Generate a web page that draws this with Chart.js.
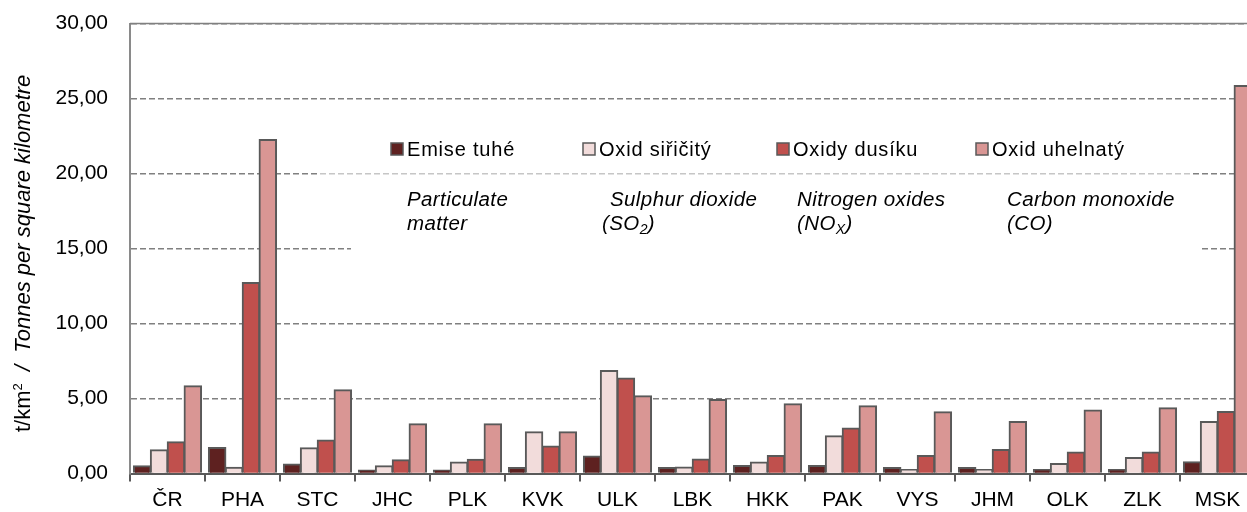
<!DOCTYPE html>
<html>
<head>
<meta charset="utf-8">
<script src="https://cdn.jsdelivr.net/npm/chart.js@4"></script>
<style>
  html, body { margin: 0; padding: 0; background: #fff; overflow: hidden; }
  #wrap { width: 1262px; height: 512px; }
</style>
</head>
<body>
<div id="wrap"><canvas id="chart" width="1262" height="512"></canvas></div>
<script>
// categories (kraje)
const regions = ['ČR', 'PHA', 'STC', 'JHC', 'PLK', 'KVK', 'ULK', 'LBK', 'HKK', 'PAK', 'VYS', 'JHM', 'OLK', 'ZLK', 'MSK'];

// t/km2
const emiseTuhe    = [0.50, 1.71, 0.62, 0.22, 0.22, 0.38, 1.15, 0.38, 0.51, 0.51, 0.38, 0.38, 0.24, 0.24, 0.77];
const oxidSiricity = [1.56, 0.40, 1.69, 0.49, 0.75, 2.76, 6.85, 0.42, 0.75, 2.49, 0.24, 0.24, 0.64, 1.04, 3.44];
const oxidyDusiku  = [2.10, 12.72, 2.22, 0.89, 0.93, 1.82, 6.34, 0.94, 1.18, 3.02, 1.18, 1.58, 1.42, 1.42, 4.11];
const oxidUhelnaty = [5.83, 22.25, 5.56, 3.29, 3.29, 2.76, 5.16, 4.92, 4.63, 4.49, 4.09, 3.44, 4.22, 4.36, 25.85];

const seriesNames = ['Emise tuhé', 'Oxid siřičitý', 'Oxidy dusíku', 'Oxid uhelnatý'];
const seriesColors = ['#5e2120', '#f2dcdb', '#c0504d', '#d99694'];

const yTicks = [0, 5, 10, 15, 20, 25, 30];

const FONT = '"Liberation Sans", Arial, sans-serif';

// legend + english captions + y title, drawn on the canvas
const annotations = {
  id: 'annotations',
  beforeDatasetsDraw(chart) {
    const { ctx, chartArea } = chart;
    ctx.save();
    // solid top line at 30
    ctx.strokeStyle = '#808080';
    ctx.lineWidth = 1.5;
    ctx.beginPath();
    ctx.moveTo(chartArea.left, chartArea.top);
    ctx.lineTo(chartArea.right, chartArea.top);
    ctx.stroke();
    // legend box (semi transparent) and caption box (white)
    ctx.fillStyle = 'rgba(255,255,255,0.55)';
    ctx.fillRect(320, 128, 872, 54);
    ctx.fillStyle = '#fff';
    ctx.fillRect(351, 184, 848, 78);
    ctx.restore();
  },
  afterDraw(chart) {
    const { ctx } = chart;
    ctx.save();

    // legend
    const legendX = [390, 582, 776, 975];
    ctx.font = '20px ' + FONT;
    ctx.letterSpacing = '0.8px';
    ctx.textBaseline = 'middle';
    ctx.textAlign = 'left';
    seriesNames.forEach((name, i) => {
      ctx.fillStyle = seriesColors[i];
      ctx.fillRect(legendX[i] + 1, 143, 12, 12);
      ctx.strokeStyle = '#595959';
      ctx.lineWidth = 1.5;
      ctx.strokeRect(legendX[i] + 1, 143, 12, 12);
      ctx.fillStyle = '#000';
      ctx.fillText(name, legendX[i] + 17, 150);
    });

    // english captions
    ctx.letterSpacing = '0.4px';
    ctx.textBaseline = 'alphabetic';
    const italic = 'italic 20.5px ' + FONT;
    const small = 'italic 14px ' + FONT;
    ctx.font = italic;
    ctx.fillText('Particulate', 407, 206);
    ctx.fillText('matter', 407, 230);
    ctx.fillText('Sulphur dioxide', 610, 206);
    ctx.fillText('Nitrogen oxides', 797, 206);
    ctx.fillText('Carbon monoxide', 1007, 206);
    ctx.fillText('(CO)', 1007, 230);

    const withSub = (x, y, a, sub, b) => {
      ctx.font = italic;
      ctx.fillText(a, x, y);
      x += ctx.measureText(a).width;
      ctx.font = small;
      ctx.fillText(sub, x, y + 4);
      x += ctx.measureText(sub).width;
      ctx.font = italic;
      ctx.fillText(b, x, y);
    };
    withSub(602, 230, '(SO', '2', ')');
    withSub(797, 230, '(NO', 'X', ')');

    // y axis title, rotated
    ctx.letterSpacing = '0px';
    ctx.translate(24, 432);
    ctx.rotate(-Math.PI / 2);
    ctx.textBaseline = 'middle';
    let x = 0;
    ctx.font = '22px ' + FONT;
    ctx.fillText('t/km', x, 0);
    x += ctx.measureText('t/km').width;
    ctx.font = '13px ' + FONT;
    ctx.fillText('2', x, -6);
    x += ctx.measureText('2').width;
    ctx.font = 'italic 22px ' + FONT;
    ctx.fillText('  /  Tonnes per square kilometre', x, 0);

    ctx.restore();
  }
};

const data = [emiseTuhe, oxidSiricity, oxidyDusiku, oxidUhelnaty];

new Chart(document.getElementById('chart').getContext('2d'), {
  type: 'bar',
  data: {
    labels: regions,
    datasets: data.map((values, i) => ({
      label: seriesNames[i],
      data: values,
      backgroundColor: seriesColors[i],
      borderColor: '#595959',
      borderWidth: 2,
      inflateAmount: 0.8,
      categoryPercentage: 0.9,
      barPercentage: 1.0
    }))
  },
  options: {
    responsive: false,
    animation: false,
    devicePixelRatio: 1,
    layout: { padding: { top: 23.5, right: 7, left: 0, bottom: 0 } },
    plugins: {
      legend: { display: false },
      tooltip: { enabled: false }
    },
    scales: {
      x: {
        afterFit: s => { s.height = 38.5; s.paddingLeft = 0; s.paddingRight = 0; },
        grid: {
          offset: true,
          drawOnChartArea: false,
          drawTicks: true,
          tickLength: 8,
          color: '#595959',
          lineWidth: 2
        },
        border: { color: '#595959', width: 2 },
        ticks: {
          color: '#000',
          padding: 6,
          font: { family: FONT, size: 21 }
        }
      },
      y: {
        min: 0,
        max: 30,
        afterFit: s => { s.width = 130; s.paddingTop = 0; s.paddingBottom = 0; },
        afterBuildTicks: s => { s.ticks = yTicks.map(v => ({ value: v })); },
        grid: {
          drawTicks: false,
          color: '#808080',
          lineWidth: 1.5
        },
        border: { color: '#8a8a8a', width: 2, dash: [6, 3] },
        ticks: {
          color: '#000',
          padding: 22,
          font: { family: FONT, size: 21 },
          callback: v => v.toFixed(2).replace('.', ',')
        }
      }
    }
  },
  plugins: [annotations]
});
</script>
</body>
</html>
